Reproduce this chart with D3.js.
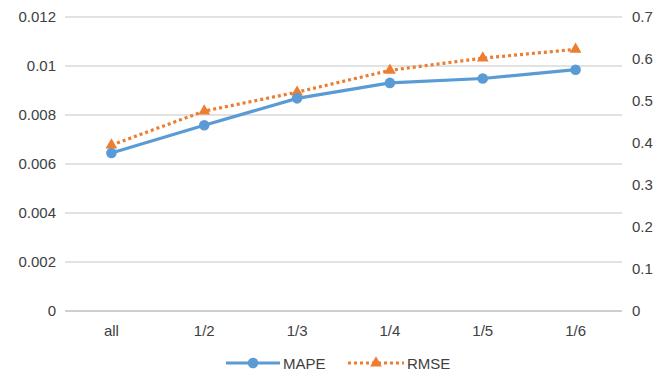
<!DOCTYPE html>
<html>
<head>
<meta charset="utf-8">
<script src="https://cdn.jsdelivr.net/npm/d3@7"></script>
<style>
  html, body { margin: 0; padding: 0; background: #fff; }
  svg text { font-family: "Liberation Sans", "DejaVu Sans", sans-serif; fill: #404040; }
</style>
</head>
<body>
<svg id="chart" width="670" height="376"></svg>
<script>
// Sampling ratios on the category axis
const categories = ["all", "1/2", "1/3", "1/4", "1/5", "1/6"];
// Left axis series
const mape = [0.00645, 0.00758, 0.00868, 0.00931, 0.00949, 0.00985];
// Right axis series
const rmse = [0.395, 0.476, 0.521, 0.573, 0.602, 0.623];
// Tick labels
const leftTicks = [0, 0.002, 0.004, 0.006, 0.008, 0.01, 0.012];
const leftTickLabels = ["0", "0.002", "0.004", "0.006", "0.008", "0.01", "0.012"];
const rightTicks = [0, 0.1, 0.2, 0.3, 0.4, 0.5, 0.6, 0.7];
const rightTickLabels = ["0", "0.1", "0.2", "0.3", "0.4", "0.5", "0.6", "0.7"];

const blue = "#5B9BD5", orange = "#ED7D31";
const margin = { left: 65, right: 48, top: 17, bottom: 65 };
const W = 670, H = 376;
const svg = d3.select("#chart");

const x = d3.scaleBand().domain(categories).range([margin.left, W - margin.right]);
const yL = d3.scaleLinear().domain([0, 0.012]).range([H - margin.bottom, margin.top]);
const yR = d3.scaleLinear().domain([0, 0.7]).range([H - margin.bottom, margin.top]);
const cx = d => x(d) + x.bandwidth() / 2;

// Horizontal gridlines
svg.append("g").selectAll("line").data(leftTicks).join("line")
  .attr("x1", margin.left).attr("x2", W - margin.right)
  .attr("y1", d => yL(d)).attr("y2", d => yL(d))
  .attr("stroke", (d) => d === 0 ? "#bfbfbf" : "#d9d9d9").attr("stroke-width", 1.5);

// Left axis labels
const leftAxis = d3.axisLeft(yL).tickValues(leftTicks)
  .tickFormat((d, i) => leftTickLabels[i]).tickSize(0).tickPadding(9);
const gl = svg.append("g").attr("transform", `translate(${margin.left},0)`).call(leftAxis);
gl.select(".domain").remove();
gl.selectAll("text").attr("font-size", 15).style("font-family", "'Liberation Sans', sans-serif").attr("fill", "#3a3a3a");

// Right axis labels
const rightAxis = d3.axisRight(yR).tickValues(rightTicks)
  .tickFormat((d, i) => rightTickLabels[i]).tickSize(0).tickPadding(10);
const gr = svg.append("g").attr("transform", `translate(${W - margin.right},0)`).call(rightAxis);
gr.select(".domain").remove();
gr.selectAll("text").attr("font-size", 15).style("font-family", "'Liberation Sans', sans-serif").attr("fill", "#3a3a3a");

// Category labels
const bottomAxis = d3.axisBottom(x).tickSize(0).tickPadding(14);
const gb = svg.append("g").attr("transform", `translate(0,${H - margin.bottom})`).call(bottomAxis);
gb.select(".domain").remove();
gb.selectAll("text").attr("font-size", 15).style("font-family", "'Liberation Sans', sans-serif").attr("fill", "#3a3a3a");

// RMSE series (dotted, triangles)
const lineR = d3.line().x((d, i) => cx(categories[i])).y(d => yR(d));
svg.append("path").datum(rmse).attr("d", lineR)
  .attr("fill", "none").attr("stroke", orange).attr("stroke-width", 3.2)
  .attr("stroke-dasharray", "3,3");
const tri = d3.symbol().type(d3.symbolTriangle).size(60);
svg.append("g").selectAll("path").data(rmse).join("path")
  .attr("d", tri)
  .attr("transform", (d, i) => `translate(${cx(categories[i])},${yR(d)})`)
  .attr("fill", orange);

// MAPE series (solid, circles)
const lineL = d3.line().x((d, i) => cx(categories[i])).y(d => yL(d));
svg.append("path").datum(mape).attr("d", lineL)
  .attr("fill", "none").attr("stroke", blue).attr("stroke-width", 3.2);
svg.append("g").selectAll("circle").data(mape).join("circle")
  .attr("cx", (d, i) => cx(categories[i])).attr("cy", d => yL(d))
  .attr("r", 5.3).attr("fill", blue);

// Legend
const lg = svg.append("g").attr("transform", "translate(0,363)");
lg.append("line").attr("x1", 226).attr("x2", 280).attr("y1", 0).attr("y2", 0)
  .attr("stroke", blue).attr("stroke-width", 3.2);
lg.append("circle").attr("cx", 253).attr("cy", 0).attr("r", 5.3).attr("fill", blue);
lg.append("text").attr("x", 283).attr("y", 5.5).attr("font-size", 15).attr("fill", "#3a3a3a").text("MAPE");
lg.append("line").attr("x1", 348).attr("x2", 404).attr("y1", 0).attr("y2", 0)
  .attr("stroke", orange).attr("stroke-width", 3.2).attr("stroke-dasharray", "3,3");
lg.append("path").attr("d", tri).attr("transform", "translate(376,0)").attr("fill", orange);
lg.append("text").attr("x", 407).attr("y", 5.5).attr("font-size", 15).attr("fill", "#3a3a3a").text("RMSE");
</script>
</body>
</html>
